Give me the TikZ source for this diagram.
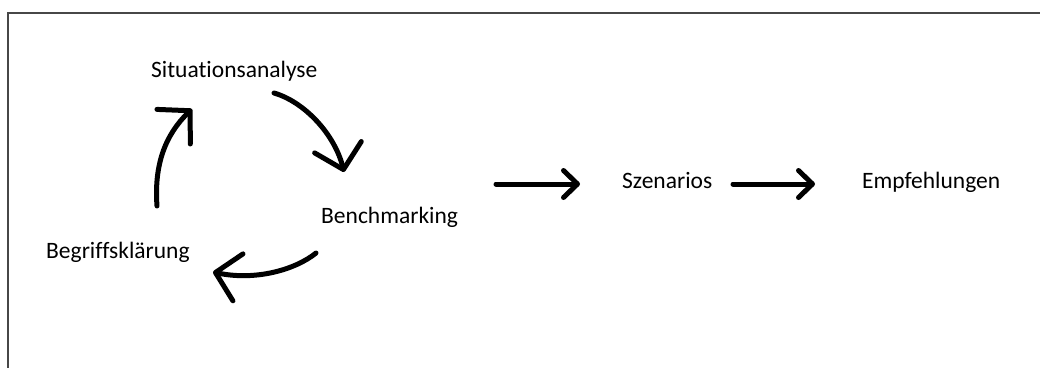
\documentclass[tikz,border=0pt]{standalone}
\usepackage{fontspec}
\setmainfont{Carlito}[Ligatures=NoCommon]
\usetikzlibrary{arrows.meta}
\begin{document}
\begin{tikzpicture}[x=1pt,y=-1pt,
  label/.style={anchor=base west,inner sep=0pt,font=\fontsize{23.5}{28}\selectfont},
  bigflow/.style={line width=5pt,line cap=round,
    -{Straight Barb[round,length=23pt,width=48pt]}},
  flow/.style={line width=5pt,line cap=round,
    -{Straight Barb[round,length=14pt,width=27pt]}},
  frame/.style={draw=black!72,line width=2pt}]
\useasboundingbox (0,0) rectangle (1040,367);
\fill[white] (0,0) rectangle (1040,367);
% open frame
\coordinate (f1) at (8,368);
\coordinate (f2) at (8,13);
\coordinate (f3) at (1041,13);
\draw[frame] (f1) -- (f2) -- (f3);

% labels
\node[label] (sit) at (151,77) {Situationsanalyse};
\node[label] (ben) at (321,223) {Benchmarking};
\node[label] (beg) at (46,258) {Begriffsklärung};
\node[label] (sze) at (622,188) {Szenarios};
\node[label] (emp) at (862,188) {Empfehlungen};

% cycle arrows
\coordinate (a1s) at (274,93);
\coordinate (a1e) at (344,172);
\coordinate (a2s) at (157,206);
\coordinate (a2e) at (192,109);
\coordinate (a3s) at (316,253);
\coordinate (a3e) at (213,272);
\draw[bigflow] (a1s) .. controls (305,102) and (335,135) .. (a1e);
\draw[bigflow] (a2s) .. controls (154,165) and (165,135) .. (a2e);
\draw[bigflow] (a3s) .. controls (295,270) and (255,281) .. (a3e);

% straight arrows
\coordinate (s1s) at (496,184);
\coordinate (s1e) at (580,184);
\coordinate (s2s) at (733,184);
\coordinate (s2e) at (815,184);
\draw[flow] (s1s) -- (s1e);
\draw[flow] (s2s) -- (s2e);
\end{tikzpicture}
\end{document}
